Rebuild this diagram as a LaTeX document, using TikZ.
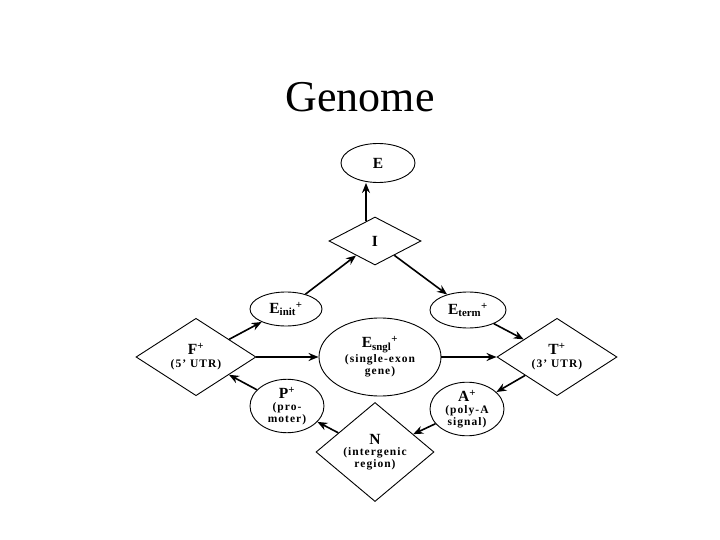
\documentclass[tikz,border=0pt]{standalone}
\usepackage{fontspec}
\setmainfont{Liberation Serif}
\usetikzlibrary{shapes.geometric,arrows.meta}
\newcommand\smalltxt[1]{{\fontsize{11.5}{12.5}\selectfont\addfontfeature{LetterSpace=9}#1}}
\newcommand\bigtxt[1]{{\fontsize{15.5}{15.5}\selectfont #1}}
\begin{document}
\begin{tikzpicture}[x=1pt,y=-1pt,
  st/.style={draw, line width=0.9pt, inner sep=0pt, align=center, font=\bfseries},
  ell/.style={st, ellipse},
  dia/.style={st, diamond},
  arr/.style={line width=1.6pt, -{Stealth[length=10pt,width=8pt]}}]
\useasboundingbox (0,0) rectangle (720,540);
\node[font=\fontsize{44}{44}\selectfont, anchor=base] (title) at (360,112) {Genome};

\node[ell, minimum width=74, minimum height=39] (E) at (378,163) {\bigtxt{E}};
\node[dia, minimum width=92, minimum height=48] (I) at (375,241) {\bigtxt{I}};
\node[ell, minimum width=72, minimum height=34] (Ei) at (286,309) {\bigtxt{E\textsubscript{init}\textsuperscript{+}}};
\node[ell, minimum width=76, minimum height=36] (Et) at (468,310) {\bigtxt{E\textsubscript{term}\textsuperscript{+}}};
\node[dia, minimum width=120, minimum height=64] (F) at (196,357) {\bigtxt{F\textsuperscript{+}}\\[1pt]\smalltxt{(5' UTR)}};
\node[dia, minimum width=120, minimum height=64] (T) at (557,357) {\bigtxt{T\textsuperscript{+}}\\[1pt]\smalltxt{(3' UTR)}};
\node[ell, minimum width=122, minimum height=78] (Es) at (380,357) {\bigtxt{E\textsubscript{sngl}\textsuperscript{+}}\\[1pt]\smalltxt{(single-exon}\\\smalltxt{gene)}};
\node[ell, minimum width=74, minimum height=42] (P) at (287,406) {\bigtxt{P\textsuperscript{+}}\\[0pt]\smalltxt{(pro-}\\\smalltxt{moter)}};
\node[ell, minimum width=74, minimum height=44] (A) at (467,409) {\bigtxt{A\textsuperscript{+}}\\[0pt]\smalltxt{(poly-A}\\\smalltxt{signal)}};
\node[dia, minimum width=118, minimum height=66] (N) at (375,452) {\bigtxt{N}\\[-1pt]\smalltxt{(intergenic}\\\smalltxt{region)}};

\draw[arr] ([xshift=-9pt,yshift=-4pt]I.north) -- ([xshift=-9pt]I.north |- E.south);
\draw[arr] (Ei) -- (I);
\draw[arr] (I) -- (Et);
\draw[arr] (Et) -- (T);
\draw[arr] (F) -- (Ei);
\draw[arr] (F) -- (Es);
\draw[arr] (Es) -- (T);
\draw[arr] (T) -- (A);
\draw[arr] (A) -- (N);
\draw[arr] (N) -- (P);
\draw[arr] (P) -- (F);
\end{tikzpicture}
\end{document}
